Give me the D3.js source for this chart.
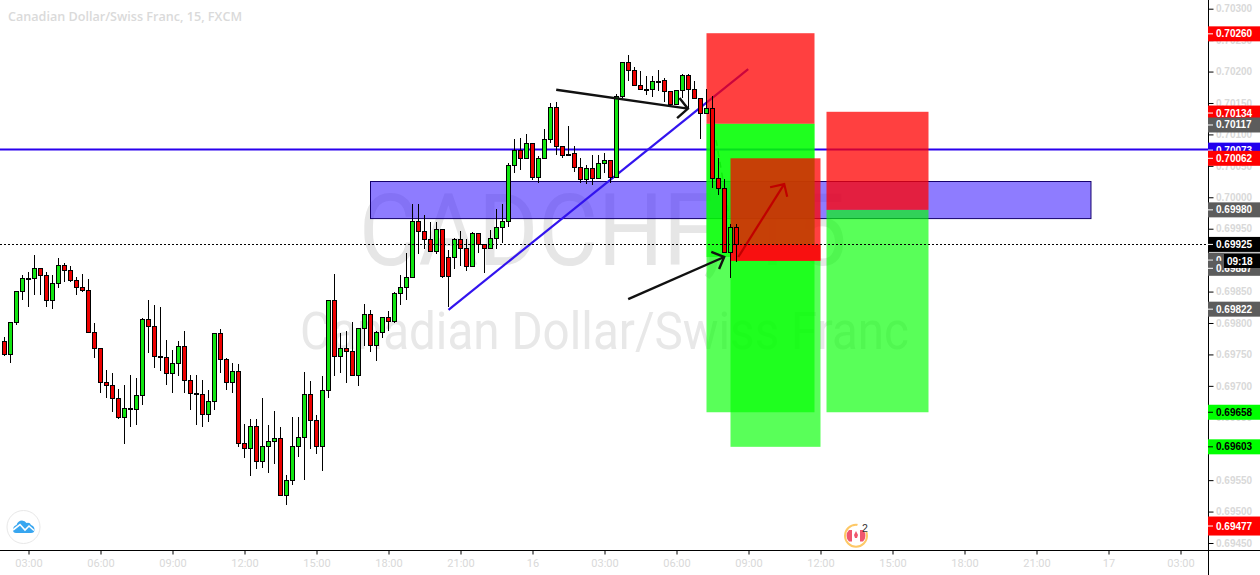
<!DOCTYPE html>
<html><head><meta charset="utf-8">
<script src="https://cdn.jsdelivr.net/npm/d3@7/dist/d3.min.js"></script>
<style>html,body{margin:0;padding:0;background:#fff;overflow:hidden}svg{display:block}</style>
</head><body><svg id="c" width="1260" height="575"></svg>
<script>
// candle values, price in 1e-5 units, one bar per 15 minutes
const opens=[69771,69750,69801,69851,69871,69871,69887,69876,69836,69863,69892,69884,69868,69857,69852,69785,69760,69706,69701,69680,69650,69664,69663,69685,69806,69795,69747,69746,69720,69736,69763,69710,69688,69687,69655,69676,69784,69742,69706,69723,69609,69601,69636,69580,69605,69612,69617,69526,69550,69604,69618,69687,69645,69605,69693,69836,69747,69761,69755,69717,69792,69814,69765,69785,69809,69803,69847,69857,69873,69963,69946,69934,69914,69949,69905,69905,69933,69919,69891,69943,69925,69920,69935,69952,69962,70052,70076,70062,70087,70033,70062,70092,70143,70081,70069,70070,70048,70029,70046,70030,70054,70060,70033,70161,70216,70202,70178,70173,70172,70185,70186,70169,70148,70170,70194,70173,70158,70134,70142,70031,70014,69913,69952];
const highs=[69777,69801,69851,69876,69881,69908,69887,69881,69876,69903,69895,69890,69873,69878,69870,69800,69760,69725,69720,69695,69701,69717,69712,69808,69836,69828,69825,69773,69757,69771,69788,69717,69717,69709,69693,69784,69790,69744,69736,69734,69640,69648,69647,69680,69637,69660,69634,69558,69650,69650,69722,69707,69653,69715,69836,69878,69784,69787,69802,69792,69831,69820,69787,69809,69819,69850,69876,69911,69990,69990,69972,69961,69960,69949,69916,69935,69946,69933,69945,69943,69925,69948,69981,69990,70054,70092,70094,70100,70087,70065,70108,70150,70151,70081,70113,70081,70062,70052,70068,70068,70070,70060,70164,70216,70226,70208,70201,70193,70193,70203,70190,70169,70170,70196,70196,70185,70158,70172,70161,70062,70029,69957,69957];
const lows=[69747,69737,69797,69836,69826,69845,69845,69825,69823,69856,69866,69865,69845,69850,69785,69745,69689,69680,69659,69648,69608,69635,69638,69670,69753,69728,69724,69702,69688,69716,69689,69662,69638,69635,69642,69662,69721,69694,69689,69603,69586,69556,69568,69570,69562,69575,69524,69510,69543,69587,69551,69600,69592,69565,69681,69715,69720,69704,69716,69699,69763,69754,69740,69776,69787,69800,69828,69836,69873,69910,69918,69913,69910,69871,69826,69886,69891,69883,69891,69911,69880,69919,69918,69928,69953,70039,70043,70062,70027,70022,70062,70087,70067,70062,70069,70041,70022,70021,70019,70030,70038,70022,70033,70158,70185,70177,70170,70162,70160,70169,70152,70146,70148,70158,70142,70157,70092,70132,70015,70003,69911,69872,69897];
const closes=[69750,69801,69851,69871,69871,69887,69876,69836,69863,69892,69884,69868,69857,69852,69785,69760,69706,69701,69680,69650,69664,69664,69685,69806,69795,69747,69747,69720,69736,69763,69710,69688,69688,69655,69676,69784,69742,69706,69723,69609,69601,69636,69580,69605,69612,69617,69526,69550,69604,69618,69687,69645,69605,69693,69836,69747,69761,69755,69717,69792,69814,69765,69785,69809,69803,69847,69857,69873,69963,69946,69934,69914,69949,69874,69874,69933,69919,69891,69943,69925,69920,69935,69952,69962,70052,70076,70062,70087,70033,70062,70092,70143,70081,70068,70069,70048,70029,70046,70030,70054,70060,70033,70161,70216,70202,70178,70173,70173,70185,70185,70169,70148,70170,70194,70173,70158,70134,70142,70031,70014,69913,69952,69925];

// axes
const priceTicks=[0.703,0.7025,0.702,0.7015,0.701,0.7005,0.7,0.6995,0.699,0.6985,0.698,0.6975,0.697,0.6965,0.696,0.6955,0.695,0.6945];
const timeTickBars=[4,16,28,40,52,64,76,88,100,112,124,136,148,160,172,184,196];
const timeTickLabels=["03:00","06:00","09:00","12:00","15:00","18:00","21:00","16","03:00","06:00","09:00","12:00","15:00","18:00","21:00","17","03:00"];

// price badges on the right scale: text, price position, fill, text colour
const badgeTexts=["0.70073","0.70260","0.70134","0.70117","0.70062","0.69980","0.69894","0.69887","0.69925","0.69822","0.69658","0.69603","0.69477"];
const badgePrices=[0.70075,0.70260,0.70134,0.70115,0.70062,0.69980,0.69900,0.69887,0.69925,0.69822,0.69658,0.69603,0.69477];
const badgeFills=["#2200ee","#ff0000","#ff0000","#5c5c5c","#ff0000","#5c5c5c","#5c5c5c","#5c5c5c","#000000","#5c5c5c","#00ff00","#00ff00","#ff0000"];
const badgeInk=["#fff","#fff","#fff","#fff","#fff","#fff","#fff","#fff","#fff","#fff","#000","#000","#fff"];

// drawings: [bar index, price]
const supplyZone=[[60.92,0.70026],[181,0.69967]];
const horizontalPrice=0.70075, lastPrice=0.69925;
const trendLine=[[74,0.69821],[123.95,0.70204]];
const dashedLine=[[118.6,0.70091],[120.8,0.69969]];
const arrowOne=[[91.95,0.70171],[113.9,0.70141]], arrowOneHead=[[112.1,0.70126],[113.9,0.70141],[112.5,0.70158]];
const arrowTwo=[[103.95,0.69838],[119.95,0.69905]], arrowTwoHead=[[117.8,0.69913],[119.95,0.69905],[119.1,0.69886]];
const arrowRed=[[122.3,0.69905],[129.95,0.70021]], arrowRedHead=[[127.6,0.70016],[129.95,0.70021],[130.45,0.70001]];
// positions: [left bar, right bar, top, middle, bottom]
const positions=[[117,135,0.70261,0.70117,0.69658],[121,136,0.70062,0.69899,0.69603],[137,154,0.70136,0.69980,0.69658]];
const extraGreen=[117,135,0.70117,0.69905];
const strip=[121,136,0.69925,0.69899];

const svg=d3.select("#c");
const x=d3.scaleLinear().domain([0,1]).range([4.5,10.5]);
const y=d3.scaleLinear().domain([0.703,0.6945]).range([8.7,543]);
const P=v=>v/1e5, gy=v=>Math.round(y(v));
const line=d3.line().x(d=>x(d[0])).y(d=>y(d[1]));
const UP="#12e612",DOWN="#ee0000",LABEL="#d9d9d9";

const chart=svg.append("g");
// watermark
chart.append("text").attr("x",359).attr("y",265).attr("textLength",488).attr("lengthAdjust","spacingAndGlyphs")
 .attr("font-family","Roboto").attr("font-size",101).attr("fill","#e6e6e6").text("CADCHF, 15");
chart.append("text").attr("x",300).attr("y",349).attr("textLength",609).attr("lengthAdjust","spacingAndGlyphs")
 .attr("font-family","Roboto").attr("font-size",51).attr("fill","#e8e8e8").text("Canadian Dollar/Swiss Franc");
chart.append("text").attr("x",8).attr("y",21).attr("font-family","Open Sans").attr("font-weight",600).attr("font-size",12.6)
 .attr("fill","#dadada").text("Canadian Dollar/Swiss Franc, 15, FXCM");

// supply zone, level and trend line
chart.append("rect").attr("x",Math.round(x(supplyZone[0][0]))+.5).attr("y",gy(supplyZone[0][1])+.5)
 .attr("width",x(supplyZone[1][0])-x(supplyZone[0][0])).attr("height",y(supplyZone[1][1])-y(supplyZone[0][1]))
 .attr("fill","rgba(66,36,255,0.6)").attr("stroke","#14006e").attr("stroke-width",1);
chart.append("line").attr("x1",0).attr("x2",1208).datum(horizontalPrice)
 .attr("y1",d=>Math.round(y(d))-.5).attr("y2",d=>Math.round(y(d))-.5).attr("stroke","#2a00ee").attr("stroke-width",2);
chart.append("path").attr("d",line(trendLine)).attr("fill","none").attr("stroke","#3214ee").attr("stroke-width",2.2);
chart.append("path").attr("d",line(dashedLine)).attr("fill","none").attr("stroke","#666").attr("stroke-width",1.5).attr("stroke-dasharray","6 5");

// long positions
const GREEN="rgba(0,255,0,0.65)",RED="rgba(255,0,0,0.75)";
chart.append("rect").attr("x",x(extraGreen[0])).attr("y",y(extraGreen[2])).attr("width",x(extraGreen[1])-x(extraGreen[0]))
 .attr("height",y(extraGreen[3])-y(extraGreen[2])).attr("fill",GREEN);
positions.forEach(p=>{
 const l=x(p[0]),w=x(p[1])-x(p[0]);
 chart.append("rect").attr("x",l).attr("y",y(p[3])).attr("width",w).attr("height",y(p[4])-y(p[3])).attr("fill",GREEN);
 chart.append("rect").attr("x",l).attr("y",y(p[2])).attr("width",w).attr("height",y(p[3])-y(p[2])).attr("fill",RED);
});
chart.append("rect").attr("x",x(strip[0])).attr("y",y(strip[2])).attr("width",x(strip[1])-x(strip[0]))
 .attr("height",y(strip[3])-y(strip[2])).attr("fill","#f81010");

// candles
const idx=d3.range(opens.length);
const g=chart.append("g").selectAll("g").data(idx).join("g");
g.append("line").attr("x1",i=>x(i)).attr("x2",i=>x(i)).attr("y1",i=>gy(P(highs[i]))).attr("y2",i=>gy(P(lows[i])))
 .attr("stroke","#000").attr("stroke-width",1);
g.append("rect").attr("x",i=>x(i)-2).attr("width",4)
 .attr("y",i=>gy(P(Math.max(opens[i],closes[i])))+.5)
 .attr("height",i=>Math.max(1,gy(P(Math.min(opens[i],closes[i])))-gy(P(Math.max(opens[i],closes[i])))))
 .attr("fill",i=>closes[i]>=opens[i]?UP:DOWN).attr("stroke","#000").attr("stroke-width",1);

// arrows
[[arrowOne,arrowOneHead,"#111",2.4],[arrowTwo,arrowTwoHead,"#111",2.4],[arrowRed,arrowRedHead,"#c00000",2.2]].forEach(a=>{
 chart.append("path").attr("d",line(a[0])).attr("fill","none").attr("stroke",a[2]).attr("stroke-width",a[3]);
 chart.append("path").attr("d",line(a[1])).attr("fill","none").attr("stroke",a[2]).attr("stroke-width",a[3]);
});
// last price
chart.append("line").attr("x1",0).attr("x2",1208).attr("y1",Math.round(y(lastPrice))+.5).attr("y2",Math.round(y(lastPrice))+.5)
 .attr("stroke","#000").attr("stroke-width",1).attr("stroke-dasharray","2 2");

// logo
const logo=svg.append("g");
logo.append("circle").attr("cx",23.5).attr("cy",527).attr("r",16.5).attr("fill","#fff").attr("stroke","#e8e8e8").attr("stroke-width",1);
logo.append("path").attr("d","M13 530 Q13 526 16.5 525 Q18 520.5 22 520.5 Q25 520.5 26.5 523 Q30 522 31 525 Q34.5 526 34.5 529.5 Q34.5 533 31 533 L16 533 Q13 533 13 530Z").attr("fill","#38a6f0");
logo.append("path").attr("d","M13 530 L20 524.5 L25 530 L29 526 L34 530.5").attr("fill","none").attr("stroke","#fff").attr("stroke-width",1.6);

// event marker
const ev=svg.append("g");
ev.append("circle").attr("cx",856).attr("cy",535.7).attr("r",11).attr("fill","#fff").attr("stroke","#fdc866").attr("stroke-width",2);
ev.append("circle").attr("cx",863).attr("cy",527).attr("r",6).attr("fill","#fff");
ev.append("path").attr("d","M849 530 A8 8 0 0 0 849 541.5 L852 541.5 L852 530Z M863 530 A8 8 0 0 1 863 541.5 L860 541.5 L860 530Z").attr("fill","#f0566e");
ev.append("path").attr("d","M856 531 L858 535 L857 538 L855 538 L854 535Z").attr("fill","#f0566e");
ev.append("text").attr("x",862).attr("y",532).attr("font-family","Liberation Sans").attr("font-size",10.5).attr("fill","#333").text("2");

// time axis
const ax=svg.append("g").attr("transform","translate(0,550.5)")
 .call(d3.axisBottom(x).tickValues(timeTickBars).tickSize(4).tickPadding(3).tickFormat((d,i)=>timeTickLabels[i]));
ax.select(".domain").attr("d","M0,0H1260").attr("stroke","#000");
ax.selectAll("line").attr("stroke","#000");
ax.selectAll("text").attr("font-family","Roboto").attr("font-size",11).attr("fill",LABEL).attr("dy","0.85em");

// price axis
const ay=svg.append("g").attr("transform","translate(1208.5,0)")
 .call(d3.axisRight(y).tickValues(priceTicks).tickSize(5).tickPadding(2.5).tickFormat(d3.format(".5f")));
ay.select(".domain").attr("d","M0,0V575").attr("stroke","#000");
ay.selectAll("line").attr("stroke","#000");
ay.selectAll("text").attr("font-family","Liberation Sans").attr("font-weight","bold").attr("font-size",10).attr("fill",LABEL);

// badges
const b=svg.append("g").selectAll("g").data(badgeTexts).join("g")
 .attr("transform",(d,i)=>`translate(1208,${y(badgePrices[i])})`);
b.append("rect").attr("x",0).attr("y",(d,i)=>i===12?-9.5:-7.5).attr("width",52).attr("height",(d,i)=>i===12?19:15).attr("fill",(d,i)=>badgeFills[i]);
b.append("line").attr("x1",0).attr("x2",5).attr("stroke",(d,i)=>badgeInk[i]==="#000"?"#000":"#fff");
b.append("text").attr("x",8).attr("dy","0.35em").attr("font-family","Liberation Sans").attr("font-weight","bold").attr("font-size",10)
 .attr("fill",(d,i)=>badgeInk[i]).text(d=>d);
// countdown
svg.append("rect").attr("x",1224).attr("y",254).attr("width",36).attr("height",14).attr("fill","#000");
svg.append("text").attr("x",1227).attr("y",264.5).attr("font-family","Liberation Sans").attr("font-weight","bold").attr("font-size",10).attr("fill","#fff").text("09:18");
</script></body></html>
